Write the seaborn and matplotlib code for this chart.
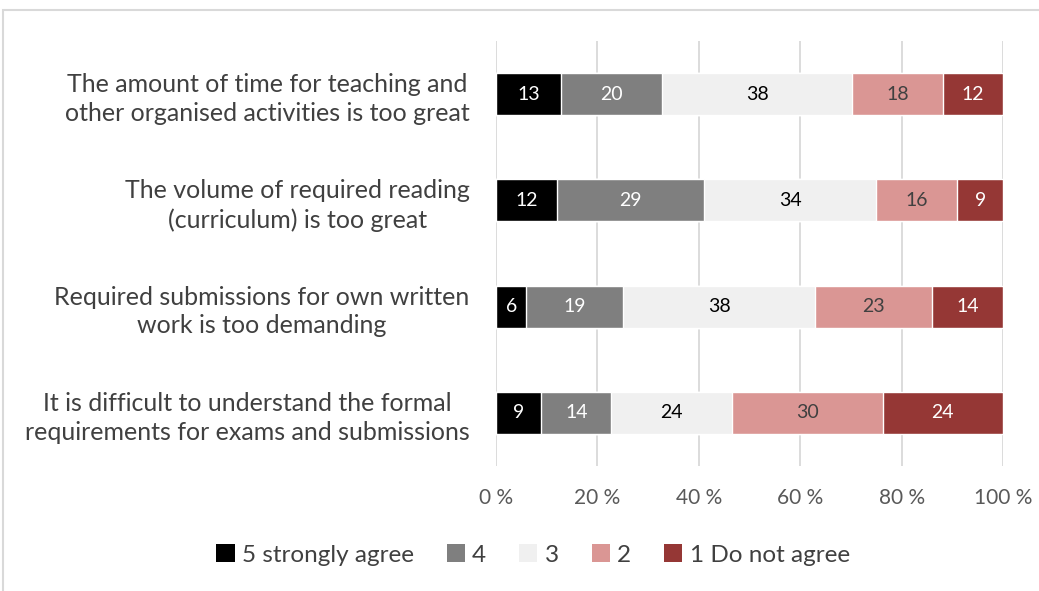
# LIBRARIES

import numpy as np
import pandas as pd
import matplotlib.pyplot as plt
import seaborn as sns
from matplotlib.patches import Patch, Rectangle


# DATA

questions = [
    "The amount of time for teaching and\nother organised activities is too great",
    "The volume of required reading\n(curriculum) is too great",
    "Required submissions for own written\nwork is too demanding",
    "It is difficult to understand the formal\nrequirements for exams and submissions",
]

answers = ["5 strongly agree", "4", "3", "2", "1 Do not agree"]

agree_5 = [13, 12, 6, 9]
agree_4 = [20, 29, 19, 14]
agree_3 = [38, 34, 38, 24]
agree_2 = [18, 16, 23, 30]
agree_1 = [12, 9, 14, 24]

colors = ["#000000", "#7f7f7f", "#f0f0f0", "#da9694", "#953735"]
label_colors = ["white", "white", "black", "#404040", "white"]


# TABLE + PERCENTAGES

counts = pd.DataFrame(
    np.array([agree_5, agree_4, agree_3, agree_2, agree_1]).T,
    index=questions,
    columns=answers,
)

share = counts.div(counts.sum(axis=1), axis=0) * 100
cum = share.cumsum(axis=1)


# STYLE

sns.set_theme(style="white")
plt.rcParams["font.family"] = ["Lato", "DejaVu Sans"]

fig = plt.figure(figsize=(10.39, 5.91), dpi=100)
ax = fig.add_axes([496 / 1039, 1 - 466 / 591, 507 / 1039, 425 / 591])

# frame around the chart area
fig.add_artist(Rectangle(
    (3 / 1039, -0.05), 1.1, 1 - 10 / 591 + 0.05,
    transform=fig.transFigure, fill=False,
    edgecolor="#d9d9d9", linewidth=1.5,
))


# STACKED BARS (draw cumulative totals from the right end backwards)

for i in range(len(answers) - 1, -1, -1):
    data = pd.DataFrame({
        "question": questions,
        "value": cum.iloc[:, i].values,
    })
    sns.barplot(
        data=data, x="value", y="question",
        color=colors[i], saturation=1, width=0.395,
        orient="h", ax=ax, zorder=3,
    )


# VALUE LABELS

for i, answer in enumerate(answers):
    centers = cum.iloc[:, i] - share.iloc[:, i] / 2
    for row, (c, v) in enumerate(zip(centers, counts.iloc[:, i])):
        ax.text(
            c, row, str(v), ha="center", va="center",
            fontsize=14, color=label_colors[i], zorder=4,
        )


# AXES

ax.set_xlim(0, 100)
ax.set_ylim(3.5, -0.5)
ax.set_xticks(range(0, 101, 20))
ax.set_xticklabels([f"{t} %" for t in range(0, 101, 20)])
ax.set_xlabel("")
ax.set_ylabel("")

ax.grid(axis="x", color="#d9d9d9", linewidth=1.3, zorder=0)
ax.grid(axis="y", visible=False)
sns.despine(ax=ax, left=True, bottom=True)

ax.tick_params(axis="x", length=0, pad=16, labelsize=15, labelcolor="#595959")
ax.tick_params(axis="y", length=0, pad=19, labelsize=18, labelcolor="#404040")

for t in ax.get_yticklabels():
    t.set_multialignment("center")
    t.set_linespacing(1.3)


# LEGEND

handles = [Patch(facecolor=c, edgecolor="none") for c in colors]

fig.legend(
    handles, answers,
    loc="center", bbox_to_anchor=(0.513, 1 - 555 / 591),
    ncol=5, frameon=False, fontsize=17.5,
    handlelength=0.75, handleheight=0.75,
    handletextpad=0.3, columnspacing=1.35,
    labelcolor="#404040",
)


# SAVE

fig.savefig("out.png", dpi=100)
plt.close()
